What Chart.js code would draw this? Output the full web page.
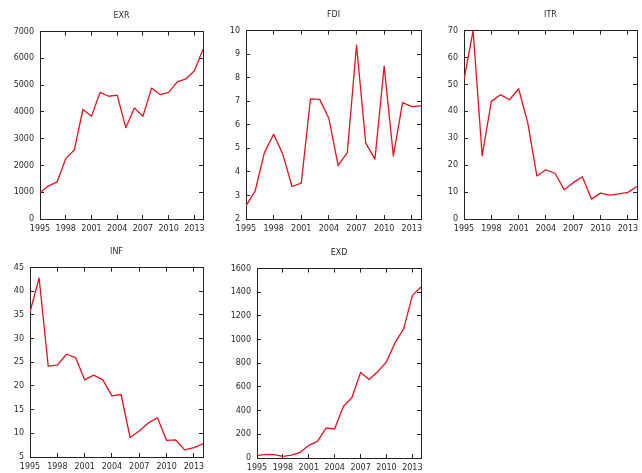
<!DOCTYPE html>
<html>
<head>
<meta charset="utf-8">
<script src="https://cdn.jsdelivr.net/npm/chart.js@4.4.0/dist/chart.umd.min.js"></script>
<style>
    html, body { margin: 0; padding: 0; background: #fff; overflow: hidden; }
    body { width: 642px; height: 473px; position: relative; }
    canvas { position: absolute; }
</style>
</head>
<body>
<canvas id="exrChart"></canvas>
<canvas id="fdiChart"></canvas>
<canvas id="itrChart"></canvas>
<canvas id="infChart"></canvas>
<canvas id="exdChart"></canvas>
<script>
// Series data
const years = [1995, 1996, 1997, 1998, 1999, 2000, 2001, 2002, 2003, 2004,
               2005, 2006, 2007, 2008, 2009, 2010, 2011, 2012, 2013, 2014];
const yearTicks = [1995, 1998, 2001, 2004, 2007, 2010, 2013];

const exrValues = [990, 1240, 1390, 2255, 2580, 4090, 3840, 4730, 4585, 4630,
                   3410, 4150, 3840, 4890, 4650, 4730, 5120, 5230, 5540, 6340];
const fdiValues = [2.56, 3.2, 4.82, 5.6, 4.75, 3.38, 3.52, 7.1, 7.08, 6.27,
                   4.28, 4.82, 9.38, 5.22, 4.54, 8.49, 4.68, 6.94, 6.77, 6.8];
const itrValues = [51.8, 70, 23.5, 43.7, 46.2, 44.3, 48.4, 35.8, 16.0, 18.3,
                   17.0, 10.9, 13.5, 15.7, 7.4, 9.6, 8.9, 9.3, 9.9, 12.1];
const infValues = [35.6, 42.8, 24.2, 24.4, 26.7, 26.0, 21.3, 22.3, 21.3, 17.9,
                   18.2, 9.1, 10.5, 12.2, 13.3, 8.5, 8.6, 6.5, 7.0, 7.8];
const exdValues = [20, 31, 28, 14, 25, 48, 107, 140, 253, 247,
                   435, 511, 722, 663, 730, 812, 975, 1093, 1374, 1444];

const exrTicks = [0, 1000, 2000, 3000, 4000, 5000, 6000, 7000];
const fdiTicks = [2, 3, 4, 5, 6, 7, 8, 9, 10];
const itrTicks = [0, 10, 20, 30, 40, 50, 60, 70];
const infTicks = [5, 10, 15, 20, 25, 30, 35, 40, 45];
const exdTicks = [0, 200, 400, 600, 800, 1000, 1200, 1400, 1600];

// layout constants
const FONT = { family: 'DejaVu Sans', size: 8 };
const TEXT_COLOR = '#2a2a2a';
const AXIS_COLOR = '#222';
const TITLE_PAD = { top: 5, bottom: 11 };
const TITLE_H = TITLE_PAD.top + FONT.size * 1.2 + TITLE_PAD.bottom;
const X_AXIS_H = 16;
const RIGHT_PAD = 5;

function fixedTicks(values) {
    return function(scale) {
        scale.ticks = values.map(v => ({ value: v }));
    };
}

function mirrorAxis(position, axisFit, ticks, min, max) {
    return {
        type: 'linear',
        position: position,
        min: min,
        max: max,
        afterBuildTicks: fixedTicks(ticks),
        afterFit: axisFit,
        ticks: { display: false },
        grid: { drawOnChartArea: false, tickLength: -4, color: AXIS_COLOR },
        border: { display: true, color: AXIS_COLOR }
    };
}

function renderPanel(canvasId, title, values, yTicks, box) {
    const yAxisW = Math.min(36, box.left);
    const canvas = document.getElementById(canvasId);
    canvas.width = box.right - box.left + yAxisW + RIGHT_PAD;
    canvas.height = box.bottom - box.top + TITLE_H + X_AXIS_H;
    canvas.style.left = (box.left - yAxisW) + 'px';
    canvas.style.top = (box.top - TITLE_H) + 'px';

    const yMin = yTicks[0];
    const yMax = yTicks[yTicks.length - 1];
    const xMin = years[0];
    const xMax = years[years.length - 1];

    new Chart(canvas.getContext('2d'), {
        type: 'line',
        data: {
            datasets: [{
                label: title,
                data: years.map((yr, i) => ({ x: yr, y: values[i] })),
                borderColor: '#e8101c',
                borderWidth: 1.3,
                borderJoinStyle: 'round',
                pointRadius: 0,
                fill: false,
                tension: 0
            }]
        },
        options: {
            responsive: false,
            animation: false,
            layout: { padding: { left: 0, right: RIGHT_PAD, top: 0, bottom: 0 } },
            plugins: {
                legend: { display: false },
                tooltip: { enabled: false },
                title: {
                    display: true,
                    text: title,
                    fullSize: false,
                    color: TEXT_COLOR,
                    font: { family: FONT.family, size: FONT.size, weight: 'normal' },
                    padding: TITLE_PAD
                }
            },
            scales: {
                x: {
                    type: 'linear',
                    position: 'bottom',
                    min: xMin,
                    max: xMax,
                    afterBuildTicks: fixedTicks(yearTicks),
                    afterFit: function(s) { s.height = X_AXIS_H; s.paddingLeft = 0; s.paddingRight = 0; },
                    ticks: {
                        color: TEXT_COLOR,
                        font: FONT,
                        padding: 9,
                        maxRotation: 0,
                        autoSkip: false,
                        callback: value => String(value)
                    },
                    grid: { drawOnChartArea: false, tickLength: -4, color: AXIS_COLOR },
                    border: { display: true, color: AXIS_COLOR }
                },
                y: {
                    type: 'linear',
                    position: 'left',
                    min: yMin,
                    max: yMax,
                    afterBuildTicks: fixedTicks(yTicks),
                    afterFit: function(s) { s.width = yAxisW; s.paddingTop = 0; s.paddingBottom = 0; },
                    ticks: {
                        color: TEXT_COLOR,
                        font: FONT,
                        padding: 10,
                        autoSkip: false,
                        callback: value => String(value)
                    },
                    grid: { drawOnChartArea: false, tickLength: -4, color: AXIS_COLOR },
                    border: { display: true, color: AXIS_COLOR }
                },
                x2: mirrorAxis('top', s => { s.height = 0; s.paddingLeft = 0; s.paddingRight = 0; }, yearTicks, xMin, xMax),
                y2: mirrorAxis('right', s => { s.width = 0; s.paddingTop = 0; s.paddingBottom = 0; }, yTicks, yMin, yMax)
            }
        }
    });
}

renderPanel('exrChart', 'EXR', exrValues, exrTicks, { left: 40, top: 32, right: 203, bottom: 220 });
renderPanel('fdiChart', 'FDI', fdiValues, fdiTicks, { left: 246, top: 31, right: 421, bottom: 220 });
renderPanel('itrChart', 'ITR', itrValues, itrTicks, { left: 464, top: 31, right: 637, bottom: 220 });
renderPanel('infChart', 'INF', infValues, infTicks, { left: 30, top: 268, right: 203, bottom: 458 });
renderPanel('exdChart', 'EXD', exdValues, exdTicks, { left: 257, top: 269, right: 421, bottom: 459 });
</script>
</body>
</html>
